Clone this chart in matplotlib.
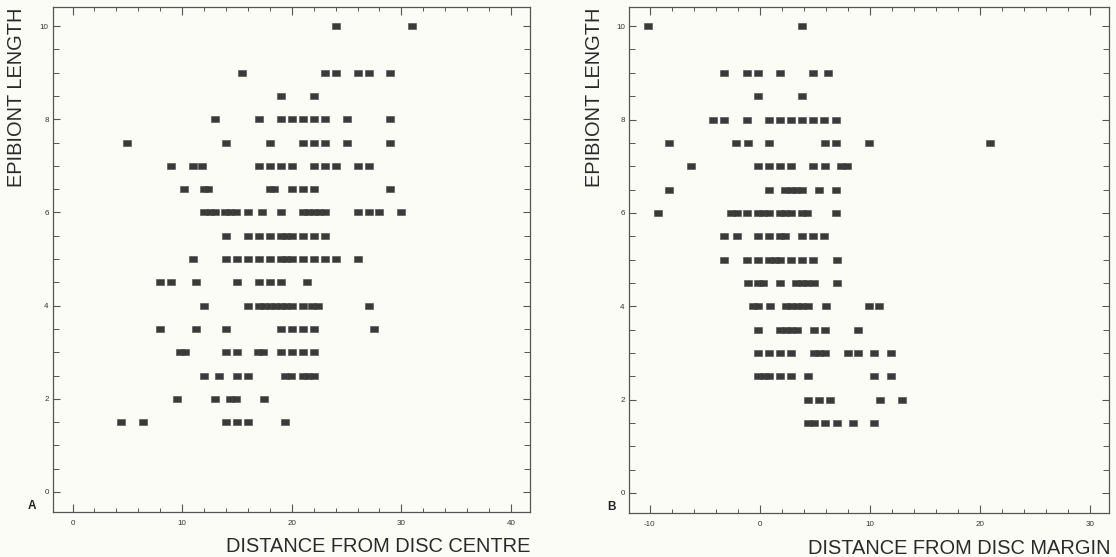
import matplotlib
matplotlib.use("Agg")
import matplotlib.pyplot as plt
from matplotlib.ticker import MultipleLocator, FixedLocator

# ---------------- data ----------------
epibiont_lengths = [10, 9, 8.5, 8, 7.5, 7, 6.5, 6, 5.5, 5, 4.5, 4, 3.5, 3, 2.5, 2, 1.5]

# Panel A: distance from disc centre, one list per epibiont length (same order as above)
dist_centre = [
    [24, 31],
    [15.5, 23, 24, 26, 27, 29],
    [19, 22],
    [13, 17, 19, 20, 21, 22, 23, 25, 29],
    [5, 14, 18, 21, 22, 23, 25, 29],
    [9, 11, 11.8, 17, 18, 19, 20, 22, 23, 24, 26, 27],
    [10.2, 12, 12.4, 18, 18.4, 20, 21, 22, 29],
    [12, 12.5, 13, 13.9, 14.4, 14.9, 16, 17.3, 19, 21, 21.5, 22, 22.5, 23, 26, 27, 28, 30],
    [14, 16, 17, 18, 19, 19.5, 20, 21, 22, 23],
    [11, 14, 15, 16, 17, 18, 19, 19.5, 20, 21, 22, 23, 24, 26],
    [8, 9, 11.3, 15, 17, 18, 19, 21.4],
    [12, 16, 17, 17.5, 18, 18.5, 19, 19.5, 20, 21, 21.8, 22.4, 27],
    [8, 11.3, 14, 19, 20, 21, 22, 27.5],
    [9.8, 10.3, 14, 15, 16.9, 17.4, 19, 20, 21, 22],
    [12, 13.4, 15, 16, 19.4, 19.9, 21, 21.5, 22],
    [9.5, 13, 14.4, 14.9, 17.5],
    [4.4, 6.4, 14, 15, 16, 19.4],
]

# Panel B: distance from disc margin, one list per epibiont length
dist_margin = [
    [-10.1, 3.8],
    [-3.2, -1.2, -0.2, 1.8, 4.8, 6.2],
    [-0.2, 3.8],
    [-4.2, -3.2, -1.2, 0.8, 1.8, 2.8, 3.8, 4.8, 5.8, 6.9],
    [-8.2, -2.2, -1.1, 0.8, 5.9, 6.9, 9.9, 20.9],
    [-6.2, -0.2, 0.8, 1.8, 2.8, 4.8, 5.9, 7.4, 7.9],
    [-8.2, 0.8, 2.3, 2.8, 3.3, 3.85, 5.4, 6.9],
    [-9.2, -2.6, -2.1, -1.15, -0.15, 0.3, 0.8, 1.85, 2.3, 2.8, 3.85, 4.3, 6.9],
    [-3.2, -2.1, -0.15, 0.85, 1.85, 2.3, 3.85, 4.8, 5.85],
    [-3.2, -1.15, -0.15, 0.85, 1.35, 1.85, 2.85, 3.85, 4.85, 7.0],
    [-1.1, -0.15, 0.3, 1.85, 3.3, 3.8, 4.3, 4.9, 7.0],
    [-0.6, -0.15, 0.9, 2.35, 2.85, 3.35, 3.85, 4.35, 6.0, 9.9, 10.85],
    [-0.15, 1.85, 2.35, 2.85, 3.35, 4.9, 5.95, 8.95],
    [-0.15, 0.85, 1.85, 2.85, 4.9, 5.4, 5.9, 8.0, 8.95, 10.4, 11.9],
    [-0.15, 0.35, 0.85, 1.85, 2.85, 4.4, 10.4, 11.9],
    [4.4, 5.4, 6.4, 10.9, 12.95],
    [4.4, 4.9, 5.95, 7.0, 8.45, 10.4],
]

x_ticks_a = [0, 10, 20, 30, 40]
x_ticks_b = [-10, 0, 10, 20, 30]
y_ticks = [0, 2, 4, 6, 8, 10]

# ---------------- style ----------------
BG = "#fcfcf7"
INK = "#3a3a3a"
plt.rcParams["font.family"] = ["Liberation Sans", "DejaVu Sans"]
plt.rcParams["axes.unicode_minus"] = False

fig = plt.figure(figsize=(11.16, 5.57), dpi=100, facecolor=BG)

rect_marker = [(-1, -0.75), (1, -0.75), (1, 0.75), (-1, 0.75), (-1, -0.75)]


def flatten(rows):
    xs, ys = [], []
    for y, row in zip(epibiont_lengths, rows):
        for x in row:
            xs.append(x)
            ys.append(y)
    return xs, ys


def style_axes(ax, xlim, xticks):
    ax.set_facecolor(BG)
    ax.set_xlim(*xlim)
    ax.set_ylim(-0.43, 10.41)
    ax.xaxis.set_major_locator(FixedLocator(xticks))
    ax.xaxis.set_minor_locator(MultipleLocator(2))
    ax.yaxis.set_major_locator(FixedLocator(y_ticks))
    ax.yaxis.set_minor_locator(MultipleLocator(0.5))
    ax.tick_params(axis="both", which="both", direction="in", colors="#555555",
                   top=True, right=True, labelsize=5.8, labelcolor="#333333")
    ax.tick_params(axis="x", which="major", length=6, width=0.8, pad=6)
    ax.tick_params(axis="x", which="minor", length=3, width=0.7)
    ax.tick_params(axis="y", which="major", length=5, width=0.8, pad=3)
    ax.tick_params(axis="y", which="minor", length=4, width=0.7)
    for s in ax.spines.values():
        s.set_color("#555555")
        s.set_linewidth(0.9)


# Panel A
ax1 = fig.add_axes([0.0474, 0.0808, 0.4272, 0.9066])
xa, ya = flatten(dist_centre)
ax1.plot(xa, ya, linestyle="none", marker=rect_marker, markersize=6.4,
         markerfacecolor=INK, markeredgecolor="#4a4a4a", markeredgewidth=0.4)
style_axes(ax1, (-1.79, 41.7), x_ticks_a)

# Panel B
ax2 = fig.add_axes([0.5636, 0.0790, 0.4301, 0.9084])
xb, yb = flatten(dist_margin)
ax2.plot(xb, yb, linestyle="none", marker=rect_marker, markersize=6.4,
         markerfacecolor=INK, markeredgecolor="#4a4a4a", markeredgewidth=0.4)
style_axes(ax2, (-11.87, 31.7), x_ticks_b)

# Axis titles
lab_kw = dict(fontsize=14.4, color="#2a2a2a")
fig.text(17 / 1116, 1 - 97 / 557, "EPIBIONT LENGTH", rotation=90,
         ha="center", va="center", **lab_kw)
fig.text(595 / 1116, 1 - 97 / 557, "EPIBIONT LENGTH", rotation=90,
         ha="center", va="center", **lab_kw)
fig.text(530 / 1116, 1 - 547 / 557, "DISTANCE FROM DISC CENTRE",
         ha="right", va="center", **lab_kw)
fig.text(1110 / 1116, 1 - 548 / 557, "DISTANCE FROM DISC MARGIN",
         ha="right", va="center", **lab_kw)

# Panel letters
fig.text(32 / 1116, 1 - 506 / 557, "A", fontsize=8.5, fontweight="bold",
         ha="center", va="center", color="#222222")
fig.text(611 / 1116, 1 - 507 / 557, "B", fontsize=8.5, fontweight="bold",
         ha="center", va="center", color="#222222")

fig.savefig("out.png", dpi=100, facecolor=BG)
